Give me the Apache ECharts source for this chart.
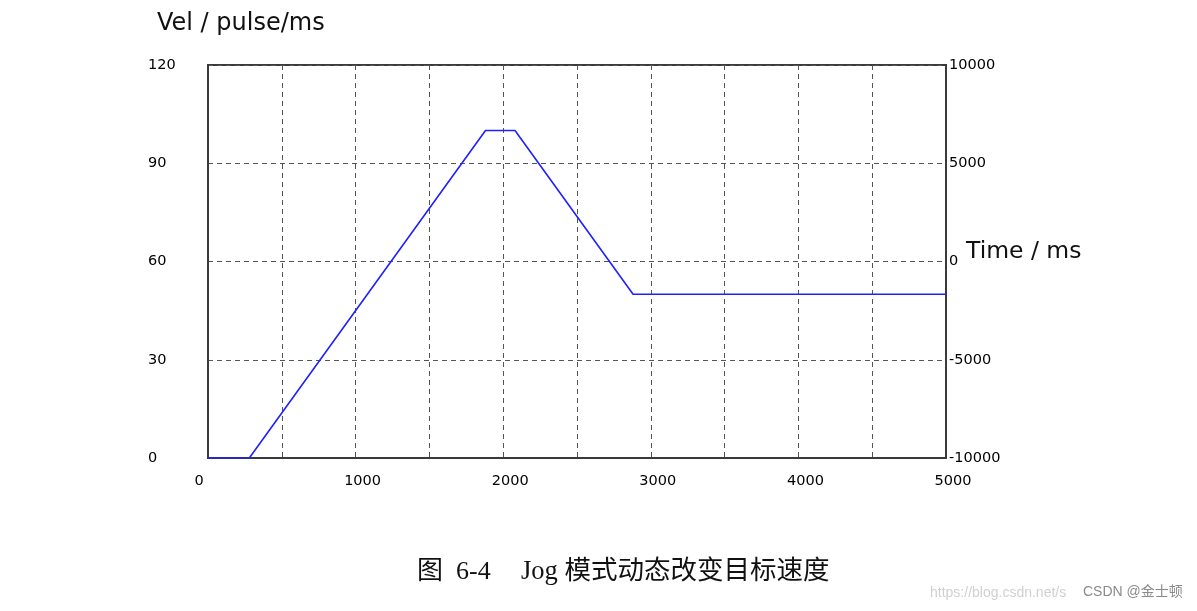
<!DOCTYPE html>
<html><head><meta charset="utf-8">
<script src="https://cdn.jsdelivr.net/npm/echarts@6/dist/echarts.min.js"></script>
<style>html,body{margin:0;padding:0;background:#fff}#c{width:1197px;height:611px}</style>
</head><body><div id="c"></div>
<script>
const timeMs = [0, 280, 1880, 2080, 2880, 5000];
const velocity = [0, 0, 100, 100, 50, 50];
const leftTicks = [0, 30, 60, 90, 120];
const rightTicks = [-10000, -5000, 0, 5000, 10000];
const xTicks = [0, 1000, 2000, 3000, 4000, 5000];
const velTitle = 'Vel / pulse/ms';
const timeTitle = 'Time / ms';
const captionHead = '图  6-4';
const captionTail = 'Jog 模式动态改变目标速度';

const chart = echarts.init(document.getElementById('c'));
const tickFont = {fontFamily: 'DejaVu Sans', fontSize: 14.5, color: '#000'};
const capFont = '"Liberation Serif", "Noto Sans CJK SC"';
chart.setOption({
  animation: false,
  backgroundColor: '#fff',
  grid: {left: 208, right: 251, top: 65, bottom: 153, show: true, borderColor: '#3a3a3a', borderWidth: 2},
  xAxis: {
    type: 'value', min: 0, max: 5000, interval: 500,
    axisLine: {show: true, lineStyle: {color: '#3a3a3a', width: 2}},
    axisTick: {show: false},
    splitLine: {show: true, lineStyle: {color: '#555', type: [5, 4], width: 1}},
    axisLabel: Object.assign({}, tickFont, {
      margin: 16,
      showMaxLabel: true, showMinLabel: true,
      formatter: v => xTicks.includes(v) ? (v === 0 ? '{z|0}' : '{n|' + v + '}') : '',
      rich: {
        n: Object.assign({}, tickFont, {padding: [0, 0, 0, 14]}),
        z: Object.assign({}, tickFont, {padding: [0, 18, 0, 0]})
      }
    })
  },
  yAxis: [{
    type: 'value', min: 0, max: 120, interval: 30, position: 'left',
    axisLine: {show: true, lineStyle: {color: '#3a3a3a', width: 2}},
    axisTick: {show: false},
    splitLine: {show: true, lineStyle: {color: '#555', type: [5, 4], width: 1}},
    axisLabel: Object.assign({}, tickFont, {
      margin: 60, align: 'left',
      formatter: v => leftTicks.includes(v) ? String(v) : ''
    })
  }, {
    type: 'value', min: -10000, max: 10000, interval: 5000, position: 'right',
    axisLine: {show: true, lineStyle: {color: '#3a3a3a', width: 2}},
    axisTick: {show: false},
    splitLine: {show: false},
    axisLabel: Object.assign({}, tickFont, {
      margin: 3, align: 'left',
      formatter: v => rightTicks.includes(v) ? String(v) : ''
    })
  }],
  series: [{
    type: 'line', yAxisIndex: 0,
    data: timeMs.map((t, i) => [t, velocity[i]]),
    showSymbol: false, symbol: 'none',
    lineStyle: {color: '#2020ff', width: 1.6},
    itemStyle: {color: '#2020ff'}
  }],
  graphic: [
    {type: 'text', left: 157, top: 12, style: {text: velTitle, fontFamily: 'DejaVu Sans', fontSize: 24, fill: '#111'}},
    {type: 'text', left: 966, top: 240, style: {text: timeTitle, fontFamily: 'DejaVu Sans', fontSize: 23.5, fill: '#111'}},
    {type: 'text', left: 417, top: 559, style: {text: captionHead, fontFamily: capFont, fontSize: 26, fill: '#111'}},
    {type: 'text', left: 521, top: 559, style: {text: captionTail, fontFamily: capFont, fontSize: 26.5, fill: '#111'}},
    {type: 'text', left: 930, top: 586, style: {text: 'https://blog.csdn.net/s', fontFamily: 'Liberation Sans', fontSize: 14, fill: '#d0d0d0'}},
    {type: 'text', left: 1083, top: 585, style: {text: 'CSDN @金士顿', fontFamily: '"Liberation Sans", "Noto Sans CJK SC"', fontSize: 14, fill: '#8a8a8a'}}
  ]
});
</script>
</body></html>
